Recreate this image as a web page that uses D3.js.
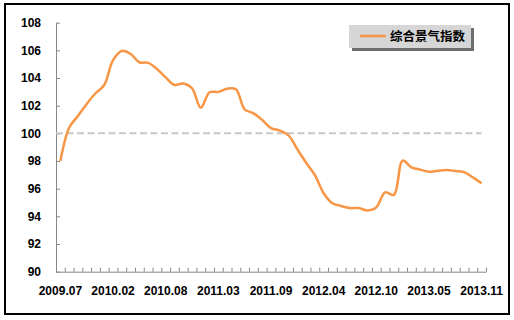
<!DOCTYPE html>
<html>
<head>
<meta charset="utf-8">
<script src="https://cdnjs.cloudflare.com/ajax/libs/d3/7.8.5/d3.min.js"></script>
<style>
    body { margin: 0; background: #fff; }
    svg text { font-family: "Liberation Sans", Arial, sans-serif; }
</style>
</head>
<body>
<svg id="chart" width="514" height="320"></svg>
<script>
// months (Jan is merged into Feb in the source data)
var months = ["2009.07", "2009.08", "2009.09", "2009.10", "2009.11", "2009.12",
    "2010.02", "2010.03", "2010.04", "2010.05", "2010.06", "2010.07", "2010.08",
    "2010.09", "2010.10", "2010.11", "2010.12",
    "2011.02", "2011.03", "2011.04", "2011.05", "2011.06", "2011.07", "2011.08",
    "2011.09", "2011.10", "2011.11", "2011.12",
    "2012.02", "2012.03", "2012.04", "2012.05", "2012.06", "2012.07", "2012.08",
    "2012.09", "2012.10", "2012.11", "2012.12",
    "2013.02", "2013.03", "2013.04", "2013.05", "2013.06", "2013.07", "2013.08",
    "2013.09", "2013.10", "2013.11"];

var index_values = [98.0, 100.4, 101.26, 102.13, 102.9, 103.5,
    105.3, 105.96, 105.74, 105.14, 105.1, 104.66, 104.05,
    103.5, 103.6, 103.26, 101.86,
    102.97, 103.0, 103.23, 103.19, 101.74, 101.45, 100.97,
    100.38, 100.2, 99.85, 98.85,
    97.88, 96.99, 95.67, 94.95, 94.75, 94.6, 94.6,
    94.43, 94.65, 95.74, 95.55,
    98.03, 97.55, 97.38, 97.23, 97.3, 97.35, 97.28,
    97.2, 96.82, 96.39];

var x_labels = ["2009.07", "2010.02", "2010.08", "2011.03", "2011.09", "2012.04", "2012.10", "2013.05", "2013.11"];
var y_ticks = [90, 92, 94, 96, 98, 100, 102, 104, 106, 108];
var base_value = 100;
var series_name = "综合景气指数";

var svg = d3.select("#chart");

var plot_left = 56, plot_right = 486, plot_top = 22.7, plot_bottom = 271.7;
var axis_color = "#868686",
    line_color = "#f79646";

// outer frame
svg.append("rect")
    .attr("x", 5).attr("y", 4)
    .attr("width", 504).attr("height", 310)
    .attr("fill", "#fff")
    .attr("stroke", "#000")
    .attr("stroke-width", 2);

var x = d3.scaleBand()
    .domain(months)
    .range([plot_left, plot_right]);

var x_edges = d3.scaleLinear()
    .domain([0, months.length])
    .range([plot_left, plot_right]);

var y = d3.scaleLinear()
    .domain([90, 108])
    .range([plot_bottom, plot_top]);

function cx(m) { return x(m) + x.bandwidth() / 2; }

// y axis
var y_axis = svg.append("g")
    .attr("transform", "translate(" + plot_left + ",0)")
    .call(d3.axisLeft(y)
        .tickValues(y_ticks)
        .tickSizeInner(-4)
        .tickSizeOuter(0)
        .tickPadding(15));

y_axis.select(".domain").attr("stroke", axis_color);
y_axis.selectAll(".tick line").attr("stroke", axis_color);
y_axis.selectAll("text")
    .attr("fill", "#000")
    .style("font-size", "12px")
    .style("font-weight", "bold");

// x axis: ticks between categories
var x_axis = svg.append("g")
    .attr("transform", "translate(0," + plot_bottom + ")")
    .call(d3.axisBottom(x_edges)
        .tickValues(d3.range(months.length + 1))
        .tickFormat("")
        .tickSizeInner(-4)
        .tickSizeOuter(0));

x_axis.select(".domain").attr("stroke", axis_color);
x_axis.selectAll(".tick line").attr("stroke", axis_color);

var x_text = svg.append("g")
    .attr("transform", "translate(0," + plot_bottom + ")")
    .call(d3.axisBottom(x)
        .tickValues(x_labels)
        .tickSize(0)
        .tickPadding(15));

x_text.select(".domain").remove();
x_text.selectAll("text")
    .attr("fill", "#000")
    .style("font-size", "12px")
    .style("font-weight", "bold");

// reference line at 100
svg.append("line")
    .attr("x1", plot_left)
    .attr("x2", cx(months[months.length - 1]))
    .attr("y1", y(base_value))
    .attr("y2", y(base_value))
    .attr("stroke", "#c8c8c8")
    .attr("stroke-width", 2)
    .attr("stroke-dasharray", "7,3.5");

// main series
var line = d3.line()
    .x(function(d, i) { return cx(months[i]); })
    .y(function(d) { return y(d); })
    .curve(d3.curveCatmullRom.alpha(0.5));

svg.append("path")
    .datum(index_values)
    .attr("d", line)
    .attr("fill", "none")
    .attr("stroke", line_color)
    .attr("stroke-width", 2.5)
    .attr("stroke-linejoin", "round");

// legend
var legend = svg.append("g")
    .attr("transform", "translate(349,25)");

legend.append("rect")
    .attr("x", 3).attr("y", 3)
    .attr("width", 122).attr("height", 23)
    .attr("fill", "#6e6e6e");

legend.append("rect")
    .attr("width", 122).attr("height", 23)
    .attr("fill", "#d6d6d6");

legend.append("line")
    .attr("x1", 11).attr("x2", 37)
    .attr("y1", 11).attr("y2", 11)
    .attr("stroke", line_color)
    .attr("stroke-width", 2.5);

legend.append("text")
    .attr("x", 41)
    .attr("y", 16)
    .style("font-family", "'Noto Sans CJK SC', sans-serif")
    .style("font-size", "12.5px")
    .style("font-weight", "bold")
    .attr("fill", "#000")
    .text(series_name);
</script>
</body>
</html>
